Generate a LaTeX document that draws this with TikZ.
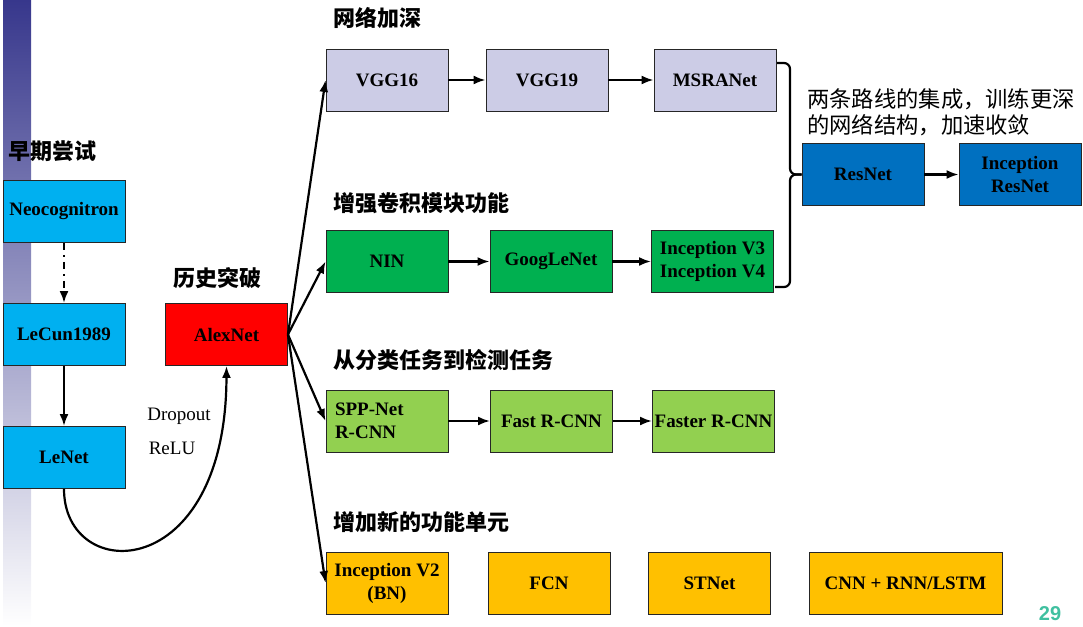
\documentclass[tikz,border=0pt]{standalone}
\usepackage{fontspec}
\setmainfont{Liberation Serif}
\newfontfamily\cjk{Noto Sans CJK SC}
\newfontfamily\numfont{Liberation Sans}
\usetikzlibrary{arrows.meta}
\definecolor{earlyblue}{RGB}{0, 176, 240}
\definecolor{breakred}{RGB}{255, 0, 0}
\definecolor{deeplav}{RGB}{204, 204, 230}
\definecolor{convgreen}{RGB}{0, 176, 80}
\definecolor{detgreen}{RGB}{146, 208, 80}
\definecolor{unitorange}{RGB}{255, 192, 0}
\definecolor{resblue}{RGB}{0, 112, 192}
\definecolor{barblue}{RGB}{55, 55, 140}
\definecolor{pagegreen}{RGB}{64, 192, 160}

\tikzset{
    netbox/.style={draw=black!85, line width=0.9pt, minimum width=122pt, minimum height=62pt,
        inner sep=2pt, align=center, font=\fontsize{19}{23}\selectfont\bfseries},
    heading/.style={anchor=west, inner sep=0pt, font=\cjk\fontsize{22}{24}\selectfont\bfseries},
    flow/.style={-{Latex[length=12pt, width=9pt]}, line width=2.2pt},
}

\begin{document}
\begin{tikzpicture}[x=1pt, y=-1pt]
    \useasboundingbox (0,0) rectangle (1083,626);

    % Side bar
    \shade[top color=barblue, bottom color=white] (3,0) rectangle (31,626);

    % Early attempts
    \node[heading] (earlyhead) at (8,151) {早期尝试};
    \node[netbox, fill=earlyblue] (neo) at (64,211.5) {Neocognitron};
    \node[netbox, fill=earlyblue] (lecun) at (64,334.5) {LeCun1989};
    \node[netbox, fill=earlyblue] (lenet) at (64,457.5) {LeNet};

    % Breakthrough
    \node[heading] (breakhead) at (173,278) {历史突破};
    \node[netbox, fill=breakred] (alex) at (226.5,334.5) {AlexNet};
    \node[font=\fontsize{19}{20}\selectfont] (dropout) at (179,416) {Dropout};
    \node[font=\fontsize{19}{20}\selectfont] (relu) at (172,448) {ReLU};

    % Deeper networks
    \node[heading] (deephead) at (333,18) {网络加深};
    \node[netbox, fill=deeplav] (vgg16) at (387,80) {VGG16};
    \node[netbox, fill=deeplav] (vgg19) at (547,80) {VGG19};
    \node[netbox, fill=deeplav] (msra) at (715,80) {MSRANet};

    % Stronger conv modules
    \node[heading] (convhead) at (333,203) {增强卷积模块功能};
    \node[netbox, fill=convgreen] (nin) at (387,261.5) {NIN};
    \node[netbox, fill=convgreen] (google) at (551,261.5) {GoogLeNet};
    \node[netbox, fill=convgreen] (incv3) at (712.5,261.5) {Inception V3\\Inception V4};

    % Residual branch
    \node[anchor=north west, inner sep=0pt, align=left, font=\cjk\fontsize{22.3}{26}\selectfont]
        (note) at (807,88) {两条路线的集成，训练更深\\的网络结构，加速收敛};
    \node[netbox, fill=resblue] (resnet) at (863,174.5) {ResNet};
    \node[netbox, fill=resblue] (incres) at (1020,174.5) {Inception\\ResNet};

    % Classification to detection
    \node[heading] (dethead) at (333,360) {从分类任务到检测任务};
    \node[netbox, fill=detgreen, text width=104pt, align=left] (spp) at (387,421) {SPP-Net\\R-CNN};
    \node[netbox, fill=detgreen] (fast) at (551.5,421) {Fast R-CNN};
    \node[netbox, fill=detgreen] (faster) at (713.5,421) {Faster R-CNN};

    % New units
    \node[heading] (unithead) at (333,522) {增加新的功能单元};
    \node[netbox, fill=unitorange] (incv2) at (387,583) {Inception V2\\(BN)};
    \node[netbox, fill=unitorange] (fcn) at (549,583) {FCN};
    \node[netbox, fill=unitorange] (stnet) at (709.5,583) {STNet};
    \node[netbox, fill=unitorange, minimum width=193pt] (rnn) at (905.5,583) {CNN + RNN/LSTM};

    \node[font=\numfont\bfseries\fontsize{20}{20}\selectfont, text=pagegreen] (pagenum) at (1050,614) {29};

    % Connectors
    \draw[flow, dash pattern=on 7pt off 5pt on 2pt off 5pt] (neo) -- (lecun);
    \draw[flow] (lecun) -- (lenet);
    \draw[flow] (lenet.south) .. controls (64,585) and (226,585) .. (alex.south);
    \foreach \dst in {vgg16, nin, spp, incv2}
        \draw[flow] (alex.east) -- (\dst.west);
    \draw[flow] (vgg16) -- (vgg19);
    \draw[flow] (vgg19) -- (msra);
    \draw[flow] (nin) -- (google);
    \draw[flow] (google) -- (incv3);
    \draw[flow] (spp) -- (fast);
    \draw[flow] (fast) -- (faster);
    \draw[flow] (resnet) -- (incres);

    % Bracket joining the two routes
    \coordinate (bracetop) at (777,63);
    \coordinate (bracebot) at (775,287);
    \draw[line width=2.2pt, rounded corners=6pt]
        (bracetop) -- (790,63) -- (790,174.5) -- (resnet.west);
    \draw[line width=2.2pt, rounded corners=6pt]
        (bracebot) -- (790,287) -- (790,174.5) -- (resnet.west);
\end{tikzpicture}
\end{document}
